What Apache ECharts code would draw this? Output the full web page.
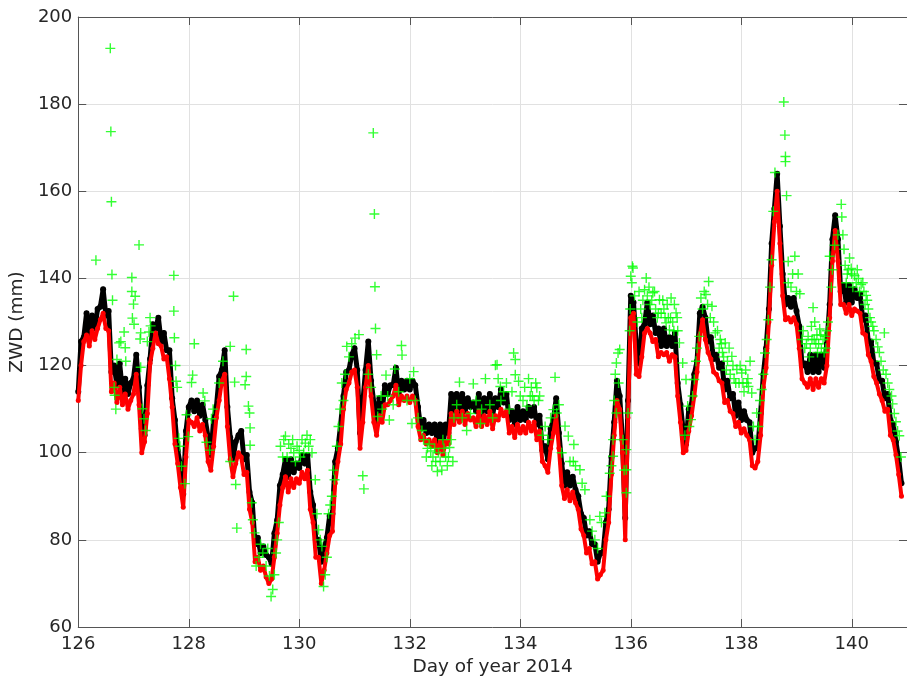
<!DOCTYPE html>
<html>
<head>
<meta charset="utf-8">
<title>ZWD, day of year 2014</title>
<script src="https://cdn.jsdelivr.net/npm/echarts@6/dist/echarts.min.js"></script>
<style>
  html, body { margin: 0; padding: 0; background: #ffffff; }
  #chart { width: 907px; height: 683px; }
</style>
</head>
<body>
<div id="chart"></div>
<script>
// Regular time grid of the two dense ZWD series (day of year 2014)
const startDay = 126.0;
const sampleStep = 0.05;

// ZWD (mm), black series, one value per sample
const zwdBlack = [
  114,125.5,126.5,132,127,131.5,128.5,133,133.5,137.5,131.5,132.5,118.5,120,115.5,120.5,114,117,113.5,116,
  117,122.5,115,105.5,104,115.5,121.5,129.5,128.5,131,125.5,127.5,123.5,123.5,112.5,107.5,100.5,97,90.5,105,
  110.5,112,109.5,112,108.5,111,107.5,103.5,99.5,107.5,110.5,117.5,119,123.5,110.5,103.5,98.5,102.5,104,105,
  98.5,99.5,91,88.5,79,80.5,77,78.5,76.5,76,74.5,81.5,84.5,92.5,95,98.5,94.5,98.5,95.5,97.5,
  96.5,99.5,97.5,99.5,91,88,80,80,75,78,80.5,85.5,86,98,101,106.5,113,118.5,119,122.5,
  124,119,104.5,111.5,119,125.5,116.5,111.5,106.5,112.5,109.5,115.5,113.5,115.5,115.5,119.5,113.5,116.5,114.5,116.5,
  114.5,116.5,115.5,110.5,105.5,107.5,104.5,106.5,104.5,106.5,102.5,106.5,101.5,106.5,104.5,113.5,109.5,113.5,109.5,113.5,
  109.5,112.5,110.5,111.5,109.5,113.5,108.5,112.5,109.5,113.5,108.5,112.5,110.5,114.5,111.5,113.5,107.5,109.5,106.5,110.5,
  107.5,109.5,107.5,110.5,108.5,110.5,106.5,108.5,100.5,101.5,98.5,105.5,107.5,112.5,104.5,97.5,92.5,95.5,92.5,94.5,
  91.5,90,86,85,81,82,79,79,75,77,77,84,87,99,107,116.5,113,103,85,112,
  136,134.5,124.5,120.5,128.5,129.5,134.5,129.5,131.5,127.5,128.5,124.5,128.5,124.5,126.5,124.5,127.5,116,111,105,
  102,110,111,118,121,132,133.5,131,125.5,126.5,121.5,122.5,119.5,120.5,114.5,116.5,112.5,113.5,108.5,111.5,
  107.5,109.5,107.5,107,100,101,101,109,118,124,133,148,156,164,152,141,134,135.5,133.5,135.5,
  132.5,129,120,120.5,118.5,122.5,118.5,122.5,118.5,122.5,119.5,125,134,149,154.5,149,137,138.5,134.5,138.5,
  134.5,137.5,135.5,136.5,130.5,131.5,125.5,125.5,120.5,120.5,116.5,116.5,112.5,113.5,107.5,106.5,102.5,98.5,93
];

// ZWD (mm), red series, same time grid
const zwdRed = [
  112,120,125.5,127,124.5,128,126,128.5,130.5,132,128.5,128,114,116,111.5,115,111,113.5,110,112,
  113.5,118,111,100,102.5,109,120.5,124,127.5,125,124.5,121.5,122,117,110.5,102,97.5,92,87.5,99,
  107.5,107,106,108,105,106.5,104,98,96,101.5,108,112,116.5,118,106,98.5,94.5,97.5,100,99,
  95,95.5,87,84,75,76,73,74,71.5,70,71,76,81.5,88,92,94.5,91,94,92,94,
  93,95.5,94,96,87,84,76,76,70,73,77,81,82,93,98,102,110,114.5,116,118.5,
  119,115,101,107,115,120,113,107,104,108.5,107,111,111,112,113,115.5,111,113,112,113,
  111.5,113,112,106,103,104,102,103,101.5,103,100,102.5,99.5,102.5,102,109,106.5,109.5,107,109.5,
  106.5,109,107.5,108,106,109.5,106,108.5,106.5,109.5,105.5,108.5,107.5,110,108.5,109.5,104.5,106,103.5,106.5,
  104.5,106,104.5,107,105,107,103,105,98,97,95.5,101,104.5,108.5,101,92.5,89.5,91.5,89,91,
  88.5,87,82.5,81,77,78,74.5,75,71,72,73,80,84,95,104,112,110,100,80,108,
  131,132,118,117.5,122,127.5,128.5,127.5,125.5,126,122,123,122.5,123,121,122.5,122,113,107,100,
  100.5,105,108.5,113,118.5,127,130.5,126,123,121.5,118.5,118,116.5,116,111.5,112,109.5,109,106,107,
  104.5,105.5,104,103,97,96.5,98,104,115,119.5,130,143,153,160,148,136,130.5,131,130,131,
  129.5,124,117,116,115,117,114.5,117,115,117,116,120,131,144,151,144,134,134,132,134,
  131.5,133,132.5,132,127.5,127,122.5,121,117.5,116,113.5,112,109.5,110,104,103,99.5,95,90
];

// Sparse ZWD estimates (green crosses): day of year and value (mm)
const greenDay = [
  126.32,126.58,126.59,126.60,126.61,126.62,126.65,126.66,126.68,126.70,126.74,126.77,126.83,126.85,126.86,126.97,126.97,126.98,127.00,127.01,
  127.03,127.10,127.12,127.13,127.13,127.16,127.19,127.22,127.25,127.28,127.30,127.31,127.73,127.73,127.74,127.76,127.77,127.79,127.82,127.84,
  127.87,127.93,127.96,127.99,128.05,128.07,128.10,128.26,128.29,128.32,128.38,128.41,128.44,128.55,128.62,128.75,128.75,128.81,128.83,128.85,
  128.87,129.02,129.04,129.04,129.08,129.10,129.11,129.11,129.14,129.16,129.19,129.22,129.27,129.30,129.34,129.40,129.43,129.46,129.49,129.52,
  129.55,129.58,129.60,129.63,129.66,129.70,129.72,129.75,129.81,129.90,129.96,130.00,130.05,130.11,130.14,130.17,130.23,130.29,130.32,130.35,
  130.38,130.41,130.44,130.47,130.50,130.53,130.56,130.59,130.62,130.64,130.68,130.71,130.74,130.77,130.80,130.83,130.86,130.90,130.95,131.01,
  131.08,131.15,131.17,131.25,131.30,131.34,131.36,131.37,131.38,131.40,131.42,131.48,131.50,131.57,131.60,131.63,131.70,131.73,131.80,131.85,
  131.86,131.95,132.00,132.04,132.07,132.10,132.15,132.22,132.25,132.30,132.35,132.38,132.40,132.45,132.50,132.55,132.60,132.65,132.68,132.72,
  132.78,132.80,132.85,132.90,132.95,133.03,133.10,133.15,133.20,133.28,133.30,133.37,133.45,133.50,133.55,133.58,133.64,133.65,133.70,133.80,
  133.88,133.91,133.91,133.97,134.05,134.12,134.18,134.20,134.25,134.30,134.35,134.40,134.45,134.50,134.55,134.60,134.63,134.66,134.70,134.75,
  134.81,134.87,134.90,134.96,134.97,135.00,135.08,135.12,135.17,135.26,135.30,135.35,135.40,135.44,135.47,135.53,135.56,135.62,135.65,135.68,
  135.68,135.70,135.72,135.74,135.74,135.77,135.78,135.80,135.86,135.88,135.92,135.92,135.92,135.95,135.98,135.99,136.00,136.02,136.03,136.04,
  136.07,136.12,136.18,136.22,136.25,136.28,136.30,136.35,136.40,136.45,136.48,136.52,136.55,136.60,136.64,136.68,136.70,136.73,136.76,136.79,
  136.82,136.85,136.88,136.94,136.98,137.00,137.03,137.06,137.09,137.12,137.15,137.18,137.20,137.24,137.27,137.30,137.33,137.36,137.39,137.41,
  137.44,137.47,137.50,137.53,137.57,137.60,137.62,137.66,137.71,137.75,137.80,137.83,137.87,137.92,137.96,138.01,138.05,138.10,138.13,138.16,
  138.19,138.22,138.25,138.28,138.31,138.34,138.37,138.40,138.43,138.46,138.49,138.52,138.55,138.58,138.61,138.77,138.79,138.80,138.80,138.82,
  138.85,138.85,138.90,138.93,138.97,139.00,139.03,139.06,139.10,139.15,139.21,139.25,139.28,139.30,139.33,139.35,139.38,139.42,139.45,139.48,
  139.51,139.55,139.60,139.63,139.65,139.69,139.75,139.81,139.82,139.84,139.86,139.88,139.92,139.96,139.99,140.00,140.05,140.08,140.12,140.17,
  140.22,140.26,140.30,140.35,140.40,140.44,140.47,140.50,140.53,140.57,140.59,140.62,140.65,140.68,140.72,140.74,140.77,140.80,140.83,140.86,
  140.89,
  129.78,129.85,129.88,129.93,130.02,130.08,130.20,
  132.32,132.42,132.47,132.52,132.58,132.62,132.70,132.75,
  133.60,133.75,133.85,134.00,134.08,134.15,134.22,134.28,134.33,
  136.15,136.20,136.33,136.38,136.43,136.50,136.58,136.62,136.66,136.72,136.78,136.84,
  137.64,137.68,137.73,137.78,137.85,137.90,137.98,138.03,138.08,138.12,
  139.12,139.18,139.23,139.27,139.32,139.37,139.40,139.44,139.50,139.53,139.57,
  139.90,139.94,140.02,140.10,140.14,140.20,140.24,140.28,140.33,140.38
];
const greenZwd = [
  144.2,192.8,173.7,157.6,140.9,135,115,113.2,110,121.4,125.2,125.5,127.7,124.1,121,140.2,137,130.9,134.1,129.5,
  135.9,147.7,126.1,127.5,119.6,110.1,107.8,105.1,125.5,127.7,131,129.1,140.7,132.5,126.4,120,116.4,115,103.3,101.5,
  96.9,92.9,108.7,103.7,116.1,117.8,125,113.7,111.9,102.4,100.6,107.8,110,116,121,124.4,98,135.9,116.2,92.7,
  82.7,115.6,123.7,117.5,110.7,109.1,105.7,101.7,88.5,84.6,81.6,74,76,79,77,74,78,71.7,67,68.6,
  72,77,80,84,101.5,99,103,103.8,102,100,101.5,100.5,103,102.2,104,101.5,100,93.8,86,82.3,
  80,78.5,69.3,72,76,86,88,90,96,93.8,101.5,106,110,116,112,118,124.4,122,125,126.3,
  127.1,94.7,91.7,118,115,173.4,154.8,138.1,128.5,122.5,108.3,113,110,117.8,113,107.5,111,119.2,114,124.6,
  122.4,112,117,106.7,118.6,112,108,105.1,103,99,102,100.4,97,101,95.7,98,103,99,97,101.2,
  98,108,111,116.2,108,105.1,109,115.8,112,106.7,110,117,111,108,120.1,120.2,115.2,112,114,110,
  122.9,121.4,117.9,116.4,112,110.7,113,115,112,114.9,113,104,106,103,108,109.9,117.3,109.1,111,100,
  106.1,103.8,98,98,101.9,97,96.1,93,91.5,84.6,82,80,78,85.4,84,86.2,90,95.3,97,99.2,
  103,112,118,109.1,120.6,122.9,116,123.7,103,96,100.7,96.1,90.8,109.1,128,133,140.5,139,142.8,142.4,
  136,130,133,135,137.4,140.1,136,134,136.7,133,131,135.1,132,133,129.8,131,128.2,135.5,130,134,
  132.1,128,125.2,120.6,104,116.8,110.7,106,107.6,113,116.8,121,124,126.7,135.5,133,137,136.3,134,139.3,
  131,133.6,130,127.5,128,124,126,123,125.2,121,118,122.1,117,119.1,116,118.3,114,116,115.2,121,
  113.7,106,103,109.1,106,112,114.5,118,122.9,126,130.5,138,144.3,155.4,164.3,180.5,172.9,168,166.8,159,
  143.9,139,138,141,145.1,137,141,136.5,126,124,126.7,124,126,133.3,130,125,123,128.4,124,126,
  126.7,128,145.1,138,142,147.6,150,157,154.1,150,146.7,143,141,144.7,142.3,141,140.6,139,140,138.6,
  137,136.1,133,130,128,126,124.3,123,121,119,127.5,118,116,114.5,113,111.2,109,107.1,105,103.9,
  99,
  99,101,103,98,99,100,103,
  101,99,98,100,96,101,99,103,
  117,116,114,113,115,117,113,116,112,
  137,131,138,135,137,132,135,131,134,131,128,131,
  125,122,119,124,120,116,120,116,119,117,
  128,125,122,129,126,127,125,127,123,124,130,
  139,142,138,142,137,139,134,135,131,129
];

// Axis tick labels
const xTickLabels = [126, 128, 130, 132, 134, 136, 138, 140];
const yTickLabels = [60, 80, 100, 120, 140, 160, 180, 200];

const toSeries = vals => vals.map((v, i) => [startDay + i * sampleStep, v]);
const greenPoints = greenDay.map((d, i) => [d, greenZwd[i]]);

const textColor = '#262626';
const axisColor = '#555555';
const gridColor = '#e1e1e1';
const font = 'DejaVu Sans';
// plus-shaped marker, arms drawn as thin filled bars
const plusPath = 'path://M4.3,0H5.7V4.3H10V5.7H5.7V10H4.3V5.7H0V4.3H4.3Z';

const xMin = 126, xMax = 141, yMin = 60, yMax = 200;

const chart = echarts.init(document.getElementById('chart'), null, { renderer: 'canvas' });

const sharedTick = { show: true, inside: true, length: 8, lineStyle: { color: axisColor, width: 1 } };

chart.setOption({
  animation: false,
  backgroundColor: '#ffffff',
  grid: { left: 77, right: -6, top: 17, bottom: 56, containLabel: false },
  xAxis: [
    {
      type: 'value', min: xMin, max: xMax, interval: 2, position: 'bottom',
      axisLine: { show: true, onZero: false, lineStyle: { color: axisColor, width: 1 } },
      axisTick: sharedTick,
      splitLine: { show: true, lineStyle: { color: gridColor, width: 1 } },
      axisLabel: {
        formatter: v => (xTickLabels.indexOf(v) >= 0 ? String(v) : ''),
        fontSize: 18, color: textColor, margin: 8, fontFamily: font,
        showMaxLabel: false
      },
      name: 'Day of year 2014', nameLocation: 'middle', nameGap: 29,
      nameTextStyle: { fontSize: 18.5, color: textColor, fontFamily: font }
    },
    {
      type: 'value', min: xMin, max: xMax, interval: 2, position: 'top',
      axisLine: { show: true, onZero: false, lineStyle: { color: axisColor, width: 1 } },
      axisTick: sharedTick,
      splitLine: { show: false },
      axisLabel: { show: false }
    }
  ],
  yAxis: [
    {
      type: 'value', min: yMin, max: yMax, interval: 20, position: 'left',
      axisLine: { show: true, onZero: false, lineStyle: { color: axisColor, width: 1 } },
      axisTick: sharedTick,
      splitLine: { show: true, lineStyle: { color: gridColor, width: 1 } },
      axisLabel: {
        formatter: v => (yTickLabels.indexOf(v) >= 0 ? String(v) : ''),
        fontSize: 18, color: textColor, margin: 6, fontFamily: font
      },
      name: 'ZWD (mm)', nameLocation: 'middle', nameGap: 48, nameRotate: 90,
      nameTextStyle: { fontSize: 18.5, color: textColor, fontFamily: font }
    },
    {
      type: 'value', min: yMin, max: yMax, interval: 20, position: 'right',
      axisLine: { show: true, onZero: false, lineStyle: { color: axisColor, width: 1 } },
      axisTick: sharedTick,
      splitLine: { show: false },
      axisLabel: { show: false }
    }
  ],
  series: [
    {
      name: 'black', type: 'line', xAxisIndex: 0, yAxisIndex: 0,
      data: toSeries(zwdBlack),
      symbol: 'circle', symbolSize: 6, showAllSymbol: true,
      lineStyle: { color: '#000000', width: 5, join: 'round' },
      itemStyle: { color: '#000000' },
      emphasis: { disabled: true }, z: 2
    },
    {
      name: 'red', type: 'line', xAxisIndex: 0, yAxisIndex: 0,
      data: toSeries(zwdRed),
      symbol: 'circle', symbolSize: 5, showAllSymbol: true,
      lineStyle: { color: '#ff0000', width: 4, join: 'round' },
      itemStyle: { color: '#ff0000' },
      emphasis: { disabled: true }, z: 3
    },
    {
      name: 'green', type: 'scatter', xAxisIndex: 0, yAxisIndex: 0,
      data: greenPoints,
      symbol: plusPath, symbolSize: 10,
      itemStyle: { color: '#00ff00' },
      emphasis: { disabled: true }, z: 4
    }
  ]
});
</script>
</body>
</html>
